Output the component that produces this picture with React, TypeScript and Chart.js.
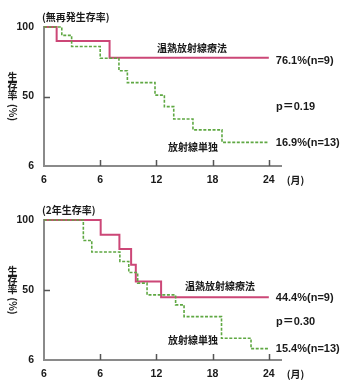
import React, { useEffect, useRef } from "react";
import { Chart, registerables } from "chart.js";

Chart.register(...registerables);

// ---- data ----
const xTickValues = [0, 6, 12, 18, 24];
const xTickLabels = ["6", "6", "12", "18", "24"];
const yTickValues = [0, 50, 100];
const yTickLabels = ["6", "50", "100"];

const rfsHyperMonths = [0, 1.35, 7.0, 24];
const rfsHyperValues = [100, 90, 77.8, 77.8];
const rfsRadioMonths = [0, 1.9, 2.95, 6.0, 8.0, 8.9, 11.85, 12.85, 13.85, 15.9, 19.0, 24];
const rfsRadioValues = [100, 94, 86, 77.5, 68.5, 60, 51, 42.7, 33.8, 26, 17, 17];

const osHyperMonths = [0, 6.05, 8.05, 9.3, 9.8, 12.5, 24];
const osHyperValues = [100, 89.5, 79.2, 68, 56, 44.8, 44.8];
const osRadioMonths = [0, 4.2, 5.1, 8.1, 9.05, 10.0, 11.0, 14.05, 14.95, 18.95, 22.1, 24];
const osRadioValues = [100, 85.4, 77.1, 70.4, 62.5, 54.9, 46.5, 39.4, 31.0, 15.5, 8.1, 8.1];

const hyperName = "温熱放射線療法";
const radioName = "放射線単独";
const yTitleChars = ["生", "存", "率"];
const yTitleUnit = "(%)";
const xUnit = "(月)";

// ---- styles ----
const RED = "#cc4777";
const GREEN = "#5fa843";
const AXIS = "#8a8a8a";
const TXT = "#1a1a1a";
const JP = "'Noto Sans CJK JP', sans-serif";
const NUM = "'Liberation Sans', 'Noto Sans CJK JP', Arial, sans-serif";

type PanelCfg = {
  title: string;
  hyperMonths: number[];
  hyperValues: number[];
  radioMonths: number[];
  radioValues: number[];
  hyperPct: string;
  radioPct: string;
  pText: string;
  top: number;
  height: number;
  padTop: number;
  xAxisH: number;
  titlePos: [number, number];
  hyperPos: [number, number];
  radioPos: [number, number];
  pPos: [number, number];
  hyperPctDy: number;
  radioPctDy: number;
};

const panels: PanelCfg[] = [
  {
    title: "(無再発生存率)",
    hyperMonths: rfsHyperMonths,
    hyperValues: rfsHyperValues,
    radioMonths: rfsRadioMonths,
    radioValues: rfsRadioValues,
    hyperPct: "76.1%(n=9)",
    radioPct: "16.9%(n=13)",
    pText: "p＝0.19",
    top: 0,
    height: 194,
    padTop: 27,
    xAxisH: 28,
    titlePos: [42, 17],
    hyperPos: [157, 48],
    radioPos: [168, 147],
    pPos: [276, 106.5],
    hyperPctDy: 3,
    radioPctDy: 0.5,
  },
  {
    title: "(2年生存率)",
    hyperMonths: osHyperMonths,
    hyperValues: osHyperValues,
    radioMonths: osRadioMonths,
    radioValues: osRadioValues,
    hyperPct: "44.4%(n=9)",
    radioPct: "15.4%(n=13)",
    pText: "p＝0.30",
    top: 194,
    height: 198,
    padTop: 26,
    xAxisH: 32,
    titlePos: [42, 16],
    hyperPos: [185, 92],
    radioPos: [168, 146],
    pPos: [276, 128],
    hyperPctDy: 0.5,
    radioPctDy: 0.5,
  },
];

function toPoints(xs: number[], ys: number[]) {
  return xs.map((x, i) => ({ x, y: ys[i] }));
}

function makeAnnotPlugin(cfg: PanelCfg) {
  return {
    id: "annot",
    afterDraw(chart: any) {
      const ctx = chart.ctx as CanvasRenderingContext2D;
      const xs = chart.scales.x;
      const ys = chart.scales.y;
      const area = chart.chartArea;
      ctx.save();
      // inward tick marks
      ctx.strokeStyle = "#555";
      ctx.lineWidth = 1.5;
      ctx.beginPath();
      xTickValues.forEach((v) => {
        if (v === 0) return;
        const px = Math.round(xs.getPixelForValue(v)) + 0.5;
        ctx.moveTo(px, area.bottom);
        ctx.lineTo(px, area.bottom - 6);
      });
      const py = Math.round(ys.getPixelForValue(50)) + 0.5;
      ctx.moveTo(area.left, py);
      ctx.lineTo(area.left + 6, py);
      ctx.stroke();

      ctx.fillStyle = TXT;
      ctx.textBaseline = "middle";
      ctx.textAlign = "left";
      ctx.font = `bold 10px ${JP}`;
      ctx.fillText(cfg.title, cfg.titlePos[0], cfg.titlePos[1]);
      ctx.fillText(hyperName, cfg.hyperPos[0], cfg.hyperPos[1]);
      ctx.fillText(radioName, cfg.radioPos[0], cfg.radioPos[1]);
      ctx.fillText(xUnit, xs.getPixelForValue(24) + 18, area.bottom + 14);

      ctx.font = `bold 11px ${NUM}`;
      ctx.fillText(cfg.pText, cfg.pPos[0], cfg.pPos[1]);
      const lx = xs.getPixelForValue(24) + 7;
      const hy = ys.getPixelForValue(cfg.hyperValues[cfg.hyperValues.length - 1]) + cfg.hyperPctDy;
      const ry = ys.getPixelForValue(cfg.radioValues[cfg.radioValues.length - 1]) + cfg.radioPctDy;
      ctx.fillText(cfg.hyperPct, lx, hy);
      ctx.fillText(cfg.radioPct, lx, ry);

      // vertical y title: upright characters stacked, unit rotated
      const mid = ys.getPixelForValue(50);
      ctx.textAlign = "center";
      ctx.font = `bold 10px ${JP}`;
      const offs = [-19, -10, -1];
      yTitleChars.forEach((c, i) => ctx.fillText(c, 12.5, mid + offs[i]));
      ctx.translate(12.5, mid + 16);
      ctx.rotate(Math.PI / 2);
      ctx.fillText(yTitleUnit, 0, 0);
      ctx.restore();
    },
  };
}

function Panel({ cfg }: { cfg: PanelCfg }) {
  const ref = useRef<HTMLCanvasElement>(null);
  useEffect(() => {
    const canvas = ref.current!;
    const chart = new Chart(canvas, {
      type: "line",
      data: {
        datasets: [
          {
            data: toPoints(cfg.radioMonths, cfg.radioValues),
            borderColor: GREEN,
            borderWidth: 1.6,
            borderDash: [3, 1.6],
            stepped: "before",
            pointRadius: 0,
            fill: false,
            clip: false,
            order: 0,
          },
          {
            data: toPoints(cfg.hyperMonths, cfg.hyperValues),
            borderColor: RED,
            borderWidth: 2,
            stepped: "before",
            pointRadius: 0,
            fill: false,
            clip: false,
            order: 1,
          },
        ],
      },
      options: {
        responsive: false,
        animation: false,
        devicePixelRatio: 1,
        layout: { padding: { top: cfg.padTop, right: 69, left: 0, bottom: 0 } },
        plugins: { legend: { display: false }, tooltip: { enabled: false } },
        scales: {
          x: {
            type: "linear",
            min: 0,
            max: 25.3,
            afterBuildTicks: (s: any) => {
              s.ticks = xTickValues.map((v) => ({ value: v }));
            },
            afterFit: (s: any) => {
              s.height = cfg.xAxisH;
            },
            grid: { display: false, drawTicks: false },
            border: { display: true, color: AXIS, width: 2 },
            ticks: {
              autoSkip: false,
              maxRotation: 0,
              padding: 8,
              color: TXT,
              font: { family: NUM, size: 10.5, weight: "bold" },
              callback: (v: any) => xTickLabels[xTickValues.indexOf(Number(v))] ?? "",
            },
          },
          y: {
            type: "linear",
            min: 0,
            max: 100,
            afterBuildTicks: (s: any) => {
              s.ticks = yTickValues.map((v) => ({ value: v }));
            },
            afterFit: (s: any) => {
              s.width = 44;
            },
            grid: { display: false, drawTicks: false },
            border: { display: true, color: AXIS, width: 2 },
            ticks: {
              autoSkip: false,
              padding: 10,
              color: TXT,
              font: { family: NUM, size: 10.5, weight: "bold" },
              callback: (v: any) => yTickLabels[yTickValues.indexOf(Number(v))] ?? "",
            },
          },
        },
      },
      plugins: [makeAnnotPlugin(cfg)],
    } as any);
    return () => chart.destroy();
  }, [cfg]);
  return (
    <canvas
      ref={ref}
      width={350}
      height={cfg.height}
      style={{ position: "absolute", left: 0, top: cfg.top, width: 350, height: cfg.height }}
    />
  );
}

export default function App() {
  return (
    <div style={{ position: "fixed", left: 0, top: 0, width: 350, height: 392, background: "#fff" }}>
      {panels.map((p, i) => (
        <Panel key={i} cfg={p} />
      ))}
    </div>
  );
}
